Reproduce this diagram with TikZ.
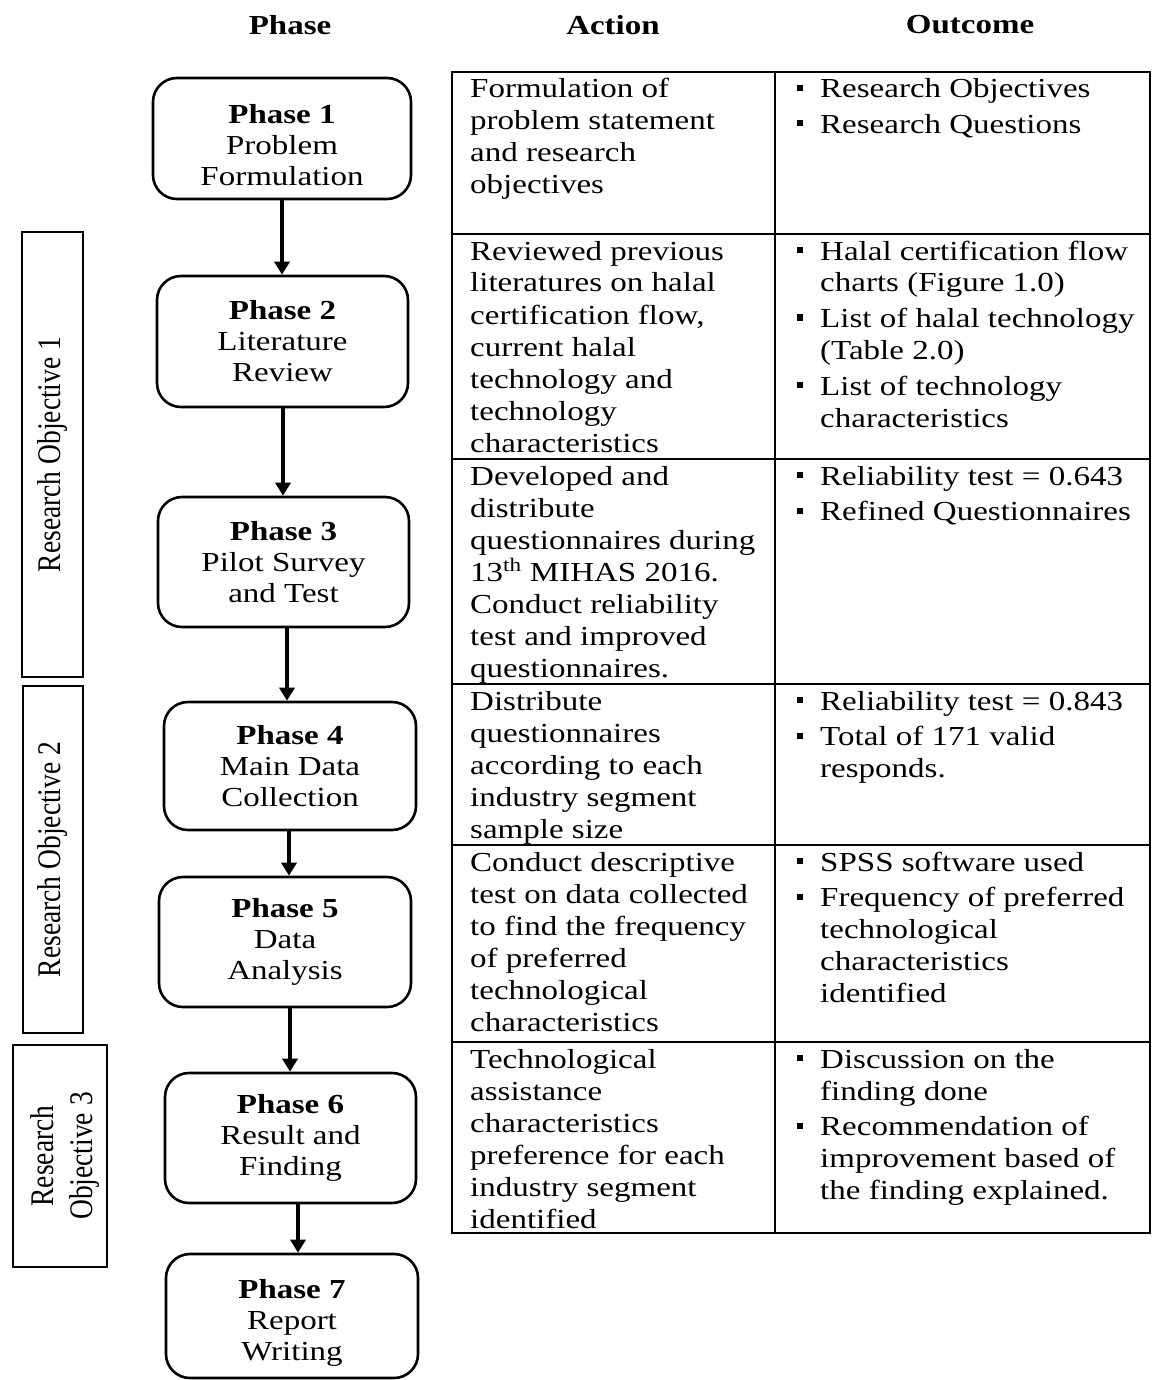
\documentclass[tikz,border=0pt]{standalone}
\usepackage{fontspec}
\setmainfont{Liberation Serif}[FakeStretch=1.2]
\newfontfamily\rofont{Liberation Serif}
\usepackage{graphicx}
\usetikzlibrary{arrows.meta,calc}
\newcommand\cellA[1]{{\renewcommand\arraystretch{1}\begin{tabular}[t]{@{}l@{}}#1\end{tabular}}}
\newcommand\cellB[1]{{\renewcommand\arraystretch{1}\begin{tabular}[t]{@{}l@{}l@{}}#1\end{tabular}}}
\newcommand\bul{\makebox[24pt][l]{\hspace{1pt}\raisebox{7pt}{\rule{5.5pt}{6pt}}}}
\begin{document}
\begin{tikzpicture}[x=1pt,y=-1pt,
  phasebox/.style={draw, line width=2.6pt, rounded corners=24pt, align=center,
    inner sep=0pt, font=\fontsize{27.5}{31}\selectfont},
  robox/.style={draw, line width=2pt, inner sep=0pt},
  rotext/.style={rotate=90, align=center, inner sep=0pt},
  head/.style={font=\fontsize{27.5}{32}\selectfont\bfseries, inner sep=0pt},
  cell/.style={anchor=base west, inner sep=0pt, font=\fontsize{27.5}{32}\selectfont},
  arr/.style={line width=4.2pt, -{Triangle[width=15pt,length=13pt]}},
  grid/.style={line width=2pt}]
\useasboundingbox (0,0) rectangle (1151,1380);
\fill[white] (0,0) rectangle (1151,1380);

% headers
\node[head] (hphase) at (290,25) {Phase};
\node[head] (haction) at (613,25) {Action};
\node[head] (houtcome) at (970,25) {Outcome};

% phase boxes
\node[phasebox, minimum width=258, minimum height=121] (p1) at (282,138.5) {\rule{0pt}{31.3pt}\textbf{Phase 1}\\Problem\\Formulation};
\node[phasebox, minimum width=251, minimum height=131] (p2) at (282.5,341.5) {\textbf{Phase 2}\\Literature\\Review};
\node[phasebox, minimum width=251, minimum height=130] (p3) at (283.5,562) {\textbf{Phase 3}\\Pilot Survey\\and Test};
\node[phasebox, minimum width=252, minimum height=128] (p4) at (290,766) {\textbf{Phase 4}\\Main Data\\Collection};
\node[phasebox, minimum width=252, minimum height=130] (p5) at (285,942) {\textbf{Phase 5}\\Data\\Analysis};
\node[phasebox, minimum width=251, minimum height=130] (p6) at (290.5,1138) {\textbf{Phase 6}\\Result and\\Finding};
\node[phasebox, minimum width=252, minimum height=124] (p7) at (292,1316) {\rule{0pt}{33pt}\textbf{Phase 7}\\Report\\Writing};

% arrows
\coordinate (a1) at (282,0);
\coordinate (a2) at (283,0);
\coordinate (a3) at (287,0);
\coordinate (a4) at (289,0);
\coordinate (a5) at (290,0);
\coordinate (a6) at (298,0);
\draw[arr] (a1 |- p1.south) -- (a1 |- p2.north);
\draw[arr] (a2 |- p2.south) -- (a2 |- p3.north);
\draw[arr] (a3 |- p3.south) -- (a3 |- p4.north);
\draw[arr] (a4 |- p4.south) -- (a4 |- p5.north);
\draw[arr] (a5 |- p5.south) -- (a5 |- p6.north);
\draw[arr] (a6 |- p6.south) -- (a6 |- p7.north);

% research objective boxes
\node[robox, minimum width=61, minimum height=445] (ro1) at (52.5,454.5) {};
\node[rotext] (ro1t) at (ro1.center) {\scalebox{1}[1.2]{\rofont\fontsize{27.5}{33}\selectfont Research Objective 1}};
\node[robox, minimum width=60, minimum height=347] (ro2) at (53,859.5) {};
\node[rotext] (ro2t) at (ro2.center) {\scalebox{1}[1.2]{\rofont\fontsize{27.5}{33}\selectfont Research Objective 2}};
\node[robox, minimum width=94, minimum height=222] (ro3) at (60,1156) {};
\node[rotext] (ro3t) at ([xshift=5pt]ro3.center) {\scalebox{1}[1.2]{\rofont\fontsize{27.5}{33}\selectfont\begin{tabular}{@{}c@{}}Research\\Objective 3\end{tabular}}};

% table grid
\draw[grid] (452,72) rectangle (1150,1233);
\draw[grid] (775,72) -- (775,1233);
\foreach \yy in {234,459,684,845,1042} \draw[grid] (452,\yy) -- (1150,\yy);

% action column
\node[cell] (c1a) at (470,98) {\cellA{Formulation of\\problem statement\\and research\\objectives}};
\node[cell] (c2a) at (470,260) {\cellA{Reviewed previous\\literatures on halal\\certification flow,\\current halal\\technology and\\technology\\characteristics}};
\node[cell] (c3a) at (470,485) {\cellA{Developed and\\distribute\\questionnaires during\\13\textsuperscript{th} MIHAS 2016.\\Conduct reliability\\test and improved\\questionnaires.}};
\node[cell] (c4a) at (470,710) {\cellA{Distribute\\questionnaires\\according to each\\industry segment\\sample size}};
\node[cell] (c5a) at (470,871) {\cellA{Conduct descriptive\\test on data collected\\to find the frequency\\of preferred\\technological\\characteristics}};
\node[cell] (c6a) at (470,1068) {\cellA{Technological\\assistance\\characteristics\\preference for each\\industry segment\\identified}};

% outcome column
\node[cell] (c1b) at (796,98) {\cellB{\bul & Research Objectives\\[3.5pt]\bul & Research Questions}};
\node[cell] (c2b) at (796,260) {\cellB{\bul & Halal certification flow\\ & charts (Figure 1.0)\\[3.5pt]\bul & List of halal technology\\ & (Table 2.0)\\[3.5pt]\bul & List of technology\\ & characteristics}};
\node[cell] (c3b) at (796,485) {\cellB{\bul & Reliability test = 0.643\\[3.5pt]\bul & Refined Questionnaires}};
\node[cell] (c4b) at (796,710) {\cellB{\bul & Reliability test = 0.843\\[3.5pt]\bul & Total of 171 valid\\ & responds.}};
\node[cell] (c5b) at (796,871) {\cellB{\bul & SPSS software used\\[3.5pt]\bul & Frequency of preferred\\ & technological\\ & characteristics\\ & identified}};
\node[cell] (c6b) at (796,1068) {\cellB{\bul & Discussion on the\\ & finding done\\[3.5pt]\bul & Recommendation of\\ & improvement based of\\ & the finding explained.}};
\end{tikzpicture}
\end{document}
